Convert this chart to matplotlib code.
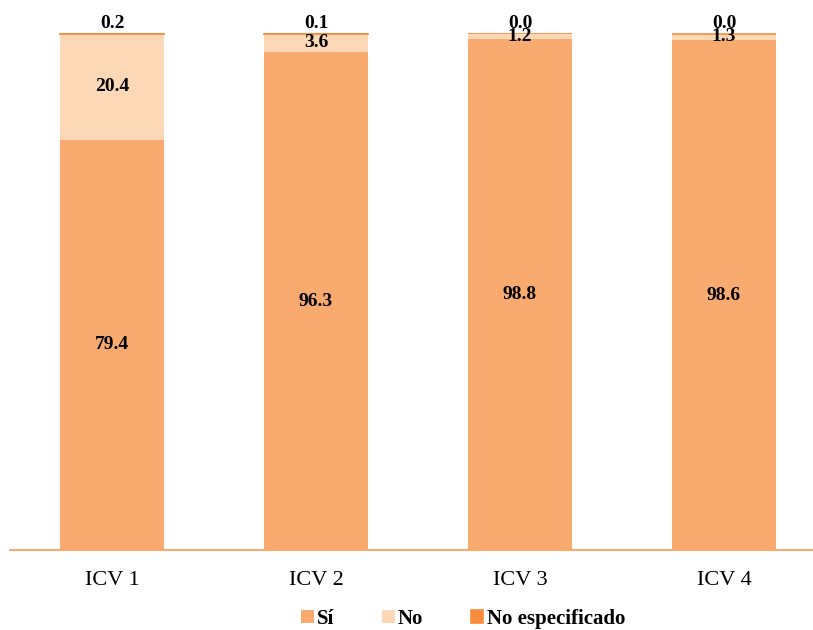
import matplotlib.pyplot as plt
import numpy as np

plt.rcParams['font.family'] = ['Liberation Serif', 'DejaVu Serif']

categories = ['ICV 1', 'ICV 2', 'ICV 3', 'ICV 4']
si = [79.4, 96.3, 98.8, 98.6]
no = [20.4, 3.6, 1.2, 1.3]
no_esp = [0.2, 0.1, 0.0, 0.0]

c_si = '#F9AB6F'
c_no = '#FDD8B7'
c_ne = '#F98C3C'

fig = plt.figure(figsize=(8.13, 6.3), dpi=100)
ax = fig.add_axes([10 / 813, 80 / 630, 803 / 813, 517 / 630])

x = np.arange(len(categories))
w = 0.51
si_arr = np.array(si)
no_arr = np.array(no)
ne_arr = np.array(no_esp)

b1 = ax.bar(x, si_arr, w, color=c_si, label='Sí')
b2 = ax.bar(x, no_arr, w, bottom=si_arr, color=c_no, label='No')
b3 = ax.bar(x, ne_arr, w, bottom=si_arr + no_arr, color=c_ne,
            edgecolor=c_ne, linewidth=1.2, label='No especificado')

for i in range(len(categories)):
    ax.text(x[i], si_arr[i] / 2, f'{si[i]:.1f}', ha='center', va='center',
            fontsize=14, fontweight='bold')
    ax.text(x[i], si_arr[i] + no_arr[i] / 2, f'{no[i]:.1f}', ha='center',
            va='center', fontsize=14, fontweight='bold')
    ax.annotate(f'{no_esp[i]:.1f}', (x[i], si_arr[i] + no_arr[i] + ne_arr[i]),
                xytext=(0, 1), textcoords='offset points', ha='center',
                va='bottom', fontsize=14, fontweight='bold', annotation_clip=False)

ax.set_xlim(-0.5, (813 - 112) / 204)
ax.set_ylim(0, 100)
ax.set_xticks(x)
ax.set_xticklabels(categories, fontsize=16)
ax.tick_params(axis='x', length=0, pad=15)
ax.set_yticks([])
for s in ['top', 'left', 'right']:
    ax.spines[s].set_visible(False)
ax.spines['bottom'].set_color('#F9AB6F')
ax.spines['bottom'].set_linewidth(1.5)

leg = fig.legend(handles=[b1, b2, b3], loc='center', bbox_to_anchor=(463 / 813, 11 / 630),
                 ncol=3, frameon=False, handlelength=0.6, handleheight=0.6,
                 handletextpad=0.15, columnspacing=2.3,
                 prop={'size': 15, 'weight': 'bold'})

fig.savefig('out.png', dpi=100)
